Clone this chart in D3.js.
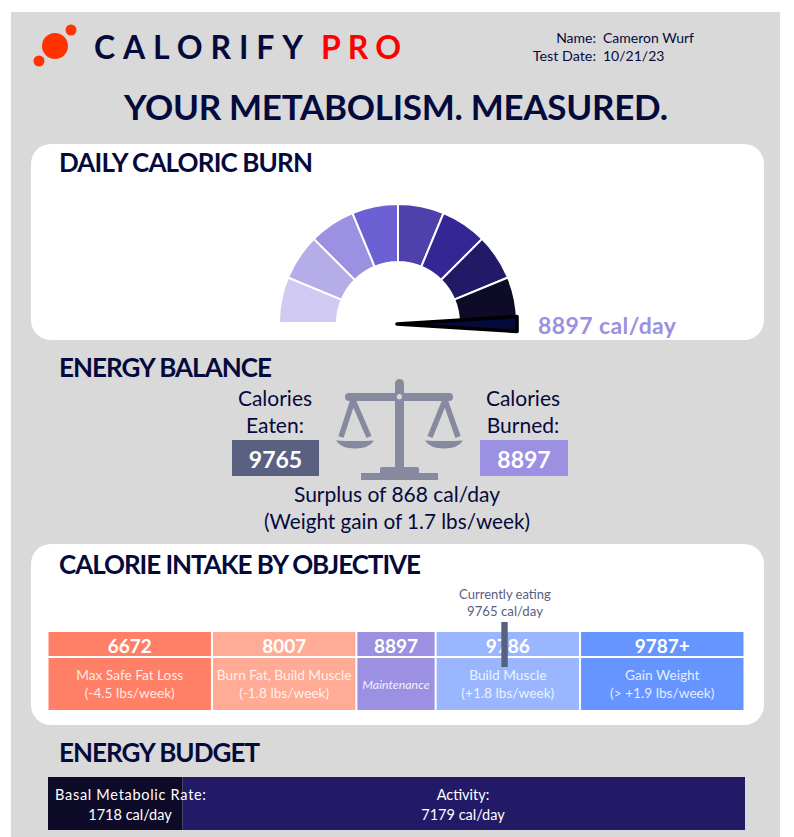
<!DOCTYPE html>
<html><head><meta charset="utf-8">
<script src="https://cdn.jsdelivr.net/npm/d3@7"></script>
<style>html,body{margin:0;padding:0;background:#fff;overflow:hidden}svg{display:block}text{font-family:Lato,"Noto Sans",sans-serif}</style>
</head><body><div id="c"></div>
<script>
// ---- data ----
const gaugeBands=[1,1,1,1,1,1,1,1];
const gaugeColors=["#d0caf2","#b5ade8","#9b90e2","#6c60d2","#4f40ab","#342794","#221a66","#0e0b28"];
const caloriesBurned=8897, caloriesEaten=9765;
const objectiveValues=["6672","8007","8897","9786","9787+"];
const objectiveNames=[["Max Safe Fat Loss","(-4.5 lbs/week)"],["Burn Fat, Build Muscle","(-1.8 lbs/week)"],["Maintenance"],["Build Muscle","(+1.8 lbs/week)"],["Gain Weight","(> +1.9 lbs/week)"]];
const objectiveColors=["#ff8066","#ffab96","#9b90e2","#99b6ff","#6695ff"];
const objectiveWeights=[164,144,79,144,164];
const budgetNames=["Basal Metabolic Rate:","Activity:"];
const budgetValues=[1718,7179];
const budgetColors=["#0e0b28","#221a66"];

const W=794,H=837,navy="#050a3c",slate="#5a6080";
const svg=d3.select("#c").append("svg").attr("width",W).attr("height",H);
function T(s,x,y,size,o={}){
  const t=svg.append("text").attr("x",x).attr("y",y).attr("font-size",size).attr("fill",o.fill||navy)
    .attr("font-weight",o.w||400).attr("text-anchor",o.a||"start").text(s);
  if(o.style)t.attr("font-style",o.style);
  if(o.len)t.attr("textLength",o.len).attr("lengthAdjust","spacing");
  if(o.op)t.attr("fill-opacity",o.op);
  return t;
}
// panel and cards
svg.append("rect").attr("x",11).attr("y",12).attr("width",769).attr("height",825).attr("fill","#d9d9d9");
[[144,196],[544,181]].forEach(c=>svg.append("rect").attr("x",31).attr("y",c[0]).attr("width",733).attr("height",c[1]).attr("rx",20).attr("fill","#fff"));

// logo
[[55,46,13],[71,30,5.5],[39,61,5.5]].forEach(c=>svg.append("circle").attr("cx",c[0]).attr("cy",c[1]).attr("r",c[2]).attr("fill","#ff3300"));
T("CALORIFY",94,59,32,{w:700,len:209});
T("PRO",321,59,32,{w:700,fill:"#ff0000",len:80});
T("Name:",596,43,14,{a:"end"});T("Cameron Wurf",603,43,14);
T("Test Date:",596,61,14.3,{a:"end"});T("10/21/23",603,61,14);
T("YOUR METABOLISM. MEASURED.",124,120,35,{w:700,len:544});
T("DAILY CALORIC BURN",59,172,26,{w:700,len:254});
T("ENERGY BALANCE",59,377,26,{w:700,len:213});
T("CALORIE INTAKE BY OBJECTIVE",59,574,26,{w:700,len:362});
T("ENERGY BUDGET",59,762,26,{w:700,len:201});

// gauge
const cx=398,cy=323;
const pie=d3.pie().sort(null).startAngle(-Math.PI/2).endAngle(Math.PI/2);
const arc=d3.arc().innerRadius(61).outerRadius(119);
svg.append("g").attr("transform",`translate(${cx},${cy})`).selectAll("path").data(pie(gaugeBands)).join("path")
  .attr("d",arc).attr("fill",(d,i)=>gaugeColors[i]).attr("stroke","#fff").attr("stroke-width",2);
const needleAngle=d3.scaleLinear().domain([0,caloriesBurned]).range([-180,0]);
svg.append("path").attr("transform",`translate(${cx-1},${cy+1}) rotate(${needleAngle(caloriesBurned)})`)
  .attr("d","M0,0L120,-7.5L120,7.5Z").attr("fill",navy).attr("stroke","#000").attr("stroke-width",3.6).attr("stroke-linejoin","round");
T(caloriesBurned+" cal/day",538,334,23,{w:700,fill:"#9b90e2",len:138});

// energy balance
T("Calories",275,406,21,{a:"middle"});T("Eaten:",275,433,21,{a:"middle"});
T("Calories",523,406,21,{a:"middle"});T("Burned:",523,433,21,{a:"middle"});
svg.append("rect").attr("x",232).attr("y",440).attr("width",87).attr("height",36).attr("fill",slate);
svg.append("rect").attr("x",480).attr("y",440).attr("width",88).attr("height",36).attr("fill","#9b90e2");
T(caloriesEaten,275.5,468,23,{a:"middle",w:700,fill:"#fff"});
T(caloriesBurned,524,468,23,{a:"middle",w:700,fill:"#fff"});
const surplus=caloriesEaten-caloriesBurned;
T(`Surplus of ${surplus} cal/day`,397,502,21,{a:"middle"});
T("(Weight gain of 1.7 lbs/week)",397,529,20.7,{a:"middle"});

// balance icon
const ic=svg.append("g").attr("fill","#878a9e").attr("stroke","none");
ic.append("rect").attr("x",395).attr("y",379).attr("width",9).attr("height",92).attr("rx",4.5);
ic.append("rect").attr("x",345).attr("y",393).attr("width",108).attr("height",8).attr("rx",4);
ic.append("circle").attr("cx",399.4).attr("cy",396.7).attr("r",2.6).attr("fill","#d9d9d9");
ic.append("path").attr("d","M380,473V469Q380,467 382,467H417Q419,467 419,469V473Z");
ic.append("rect").attr("x",361).attr("y",473).attr("width",77).attr("height",7);
[[353,336,374],[445,425,463]].forEach(([a,l,r])=>{
  const m=(l+r)/2;
  ic.append("path").attr("d",`M${m-14},437L${a},400L${m+14},437`).attr("fill","none").attr("stroke","#878a9e").attr("stroke-width",5.5);
  ic.append("path").attr("d",`M${l},440.5Q${m},441.5 ${r},440.5Q${r-5},448.5 ${m},448.5Q${l+5},448.5 ${l},440.5Z`);
});

// objective table
const totalW=d3.sum(objectiveWeights);
const colX=d3.scaleLinear().domain([0,totalW]).range([48,745]);
let acc=0;
objectiveValues.forEach((v,i)=>{
  const x0=colX(acc)+0.5,x1=colX(acc+objectiveWeights[i])-1.5;acc+=objectiveWeights[i];
  const mx=(x0+x1)/2,c=objectiveColors[i],g=svg.append("g");
  g.append("rect").attr("x",x0).attr("y",632).attr("width",x1-x0).attr("height",24).attr("fill",c);
  g.append("rect").attr("x",x0).attr("y",658).attr("width",x1-x0).attr("height",52).attr("fill",c);
  T(v,mx,652.5,19,{a:"middle",w:700,fill:"#fff"});
  const n=objectiveNames[i];
  if(n.length===1) T(n[0],mx,689,12.4,{a:"middle",fill:"#fff",style:"italic",op:.9});
  else{T(n[0],mx,680,13.7,{a:"middle",fill:"#fff",op:.85});T(n[1],mx,698,13.7,{a:"middle",fill:"#fff",op:.85});}
});
const markerX=d3.scaleLinear().domain([0,9786]).range([48,505.5]);
svg.append("rect").attr("x",markerX(caloriesEaten)-3.2).attr("y",622).attr("width",6.4).attr("height",45).attr("fill",slate);
T("Currently eating",505,599,13,{a:"middle",fill:slate});
T(`${caloriesEaten} cal/day`,505,616,13.2,{a:"middle",fill:slate});

// energy budget
const budgetX=d3.scaleLinear().domain([0,d3.sum(budgetValues)]).range([48,745]);
const stack=d3.cumsum(budgetValues);
budgetValues.forEach((v,i)=>{
  const a=budgetX(i?stack[i-1]:0),b=budgetX(stack[i]);
  svg.append("rect").attr("x",a).attr("y",777).attr("width",b-a).attr("height",53).attr("fill",budgetColors[i]);
});
T(budgetNames[0],130.5,800,14.5,{a:"middle",fill:"#fff",len:151});
T(budgetValues[0]+" cal/day",130,820,14.5,{a:"middle",fill:"#fff"});
T(budgetNames[1],463,800,14.5,{a:"middle",fill:"#fff"});
T(budgetValues[1]+" cal/day",463,820,14.5,{a:"middle",fill:"#fff"});
</script></body></html>
